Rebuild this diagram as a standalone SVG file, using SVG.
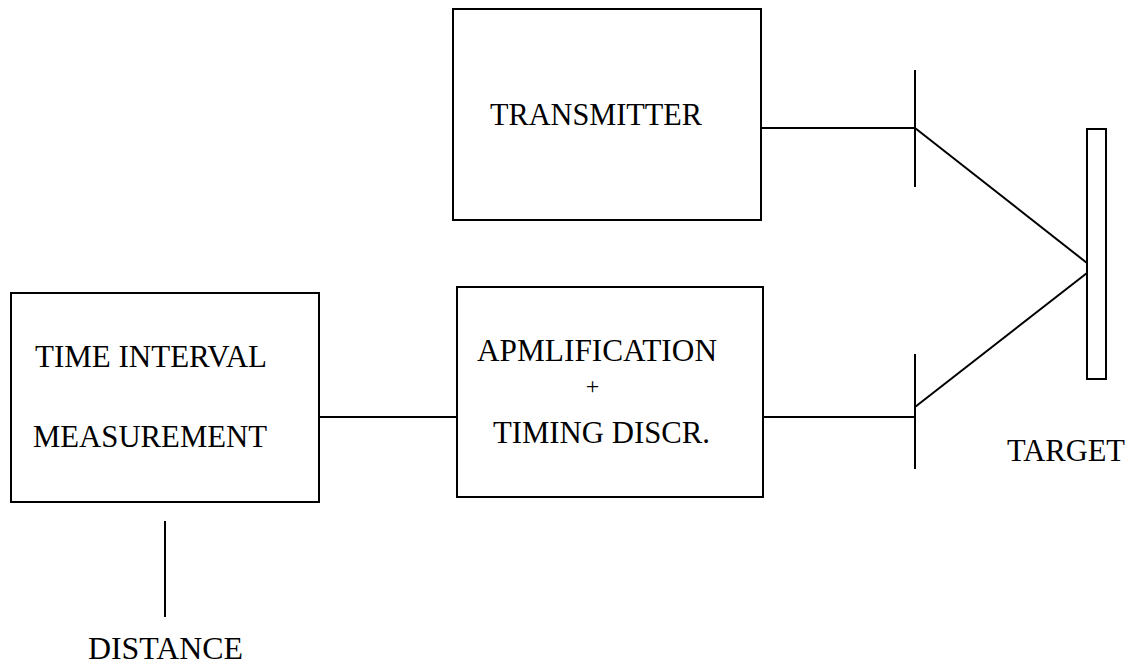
<svg xmlns="http://www.w3.org/2000/svg" width="1132" height="665" viewBox="0 0 1132 665">
<style>
.box{fill:#fff;stroke:#000;stroke-width:2}
.ln{fill:none;stroke:#000;stroke-width:2}
.t{font-family:"Liberation Serif","Times New Roman",serif;font-size:32px;fill:#000}
</style>
<rect width="1132" height="665" fill="#fff"/>
<g id="connectors">
<line class="ln" x1="761" y1="128" x2="915" y2="128"/>
<line class="ln" x1="915" y1="70" x2="915" y2="187"/>
<line class="ln" x1="915" y1="128" x2="1087" y2="263"/>
<line class="ln" x1="319" y1="417" x2="457" y2="417"/>
<line class="ln" x1="763" y1="417" x2="915" y2="417"/>
<line class="ln" x1="915" y1="354" x2="915" y2="469"/>
<line class="ln" x1="915" y1="407" x2="1087" y2="273"/>
<line class="ln" x1="165" y1="521" x2="165" y2="617"/>
</g>
<g id="transmitter">
<rect class="box" x="453" y="9" width="308" height="211"/>
<text class="t" x="490" y="125" textLength="212" lengthAdjust="spacingAndGlyphs">TRANSMITTER</text>
</g>
<g id="time-interval">
<rect class="box" x="11" y="293" width="308" height="209"/>
<text class="t" x="35" y="367" textLength="232" lengthAdjust="spacingAndGlyphs">TIME INTERVAL</text>
<text class="t" x="33" y="447" textLength="234" lengthAdjust="spacingAndGlyphs">MEASUREMENT</text>
</g>
<g id="amplification">
<rect class="box" x="457" y="287" width="306" height="210"/>
<text class="t" x="477" y="361" textLength="240" lengthAdjust="spacingAndGlyphs">APMLIFICATION</text>
<text class="t" x="592.5" y="394" text-anchor="middle" style="font-size:24px">+</text>
<text class="t" x="493" y="443" textLength="217" lengthAdjust="spacingAndGlyphs">TIMING DISCR.</text>
</g>
<g id="target">
<rect class="box" x="1087" y="129" width="19" height="250"/>
<text class="t" x="1007" y="461" textLength="118" lengthAdjust="spacingAndGlyphs">TARGET</text>
</g>
<g id="distance">
<text class="t" x="88" y="659" textLength="155" lengthAdjust="spacingAndGlyphs">DISTANCE</text>
</g>
</svg>
